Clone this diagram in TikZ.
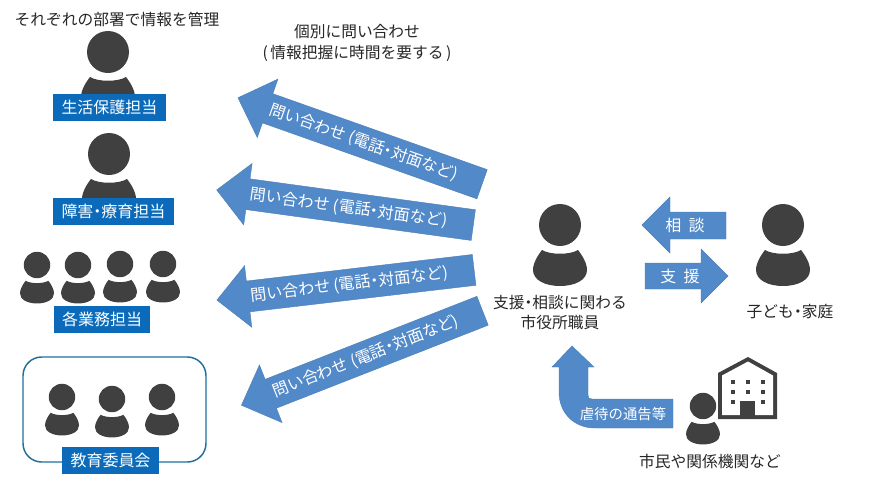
\documentclass[tikz,border=0pt]{standalone}
\usepackage{fontspec}
\setmainfont{Noto Sans CJK JP}
\usepackage{xcolor}
\usetikzlibrary{positioning}
\definecolor{persongray}{HTML}{404040}
\definecolor{tagblue}{HTML}{0B6BBA}
\definecolor{askblue}{HTML}{5289C9}
\definecolor{askedge}{HTML}{4A7DB5}
\definecolor{boardline}{HTML}{1F6F9E}
\newcommand{\tdot}{\makebox[.5em]{・}}
\tikzset{
  note/.style={align=center, font=\fontsize{11.8}{15}\selectfont, inner sep=0pt, text=black!85},
  tag/.style={rectangle, fill=tagblue, text=white, font=\fontsize{12}{14}\selectfont, minimum height=27*0.75pt, inner sep=0pt},
  askfill/.style={fill=askblue, draw=askedge, line width=0.3pt},
  asktext/.style={text=white, font=\fontsize{12}{14}\selectfont, inner sep=0pt},
  person/.pic={
    \fill[persongray] (0,0) circle[radius=21];
    \fill[persongray] (-18,25) .. controls (-10,30) and (10,30) .. (18,25)
      .. controls (22,30) and (27,38) .. (27,45) .. controls (27,55) and (15,61) .. (0,61)
      .. controls (-15,61) and (-27,55) .. (-27,45) .. controls (-27,38) and (-22,30) .. (-18,25) -- cycle;
  },
  askarrow/.pic={
    \path[askfill] (-129.5,0) -- (-98,-31) -- (-98,-15.5) -- (129.5,-15.5) -- (129.5,15.5) -- (-98,15.5) -- (-98,31) -- cycle;
    \node[asktext, transform shape] (-text) at (4,0) {問い合わせ (電話\tdot 対面など)};
  },
}
\begin{document}
\begin{tikzpicture}[x=0.75pt, y=-0.75pt]
\useasboundingbox (0,0) rectangle (876,487);
% left column
\node[note] (manage) at (117,19) {それぞれの部署で情報を管理};
\pic at (108,52) {person};
\node[tag, minimum width=113*0.75pt] (welfare) at (109.5,107.5) {生活保護担当};
\pic at (109,154) {person};
\node[tag, minimum width=121*0.75pt] (care) at (113.5,211) {障害\tdot 療育担当};
\pic[scale=0.63] at (37,265) {person};
\pic[scale=0.63] at (78,265) {person};
\pic[scale=0.63] at (120,264) {person};
\pic[scale=0.63] at (163,264) {person};
\node[tag, minimum width=96*0.75pt] (duties) at (102,319.5) {各業務担当};
\draw[boardline, line width=1.1pt, rounded corners=14pt] (23,357) rectangle (206,462);
\pic[scale=0.63] at (62,397) {person};
\pic[scale=0.63] at (112,399) {person};
\pic[scale=0.63] at (162,397) {person};
\node[tag, minimum width=97*0.75pt] (board) at (110.5,460) {教育委員会};
% inquiries
\node[note] (each) at (357,32) {個別に問い合わせ};
\node[note, below=4pt of each] (slow) {(\,情報把握に時間を要する\,)};
\pic[rotate=-19.5] (ask1) at (360,141) {askarrow};
\pic[rotate=-7.8] (ask2) at (345,207.5) {askarrow};
\pic[rotate=6.7] (ask3) at (345.5,285) {askarrow};
\pic[rotate=21.4] (ask4) at (362,358) {askarrow};
% staff and family
\pic at (560,225) {person};
\node[note] (staff) at (560,313) {支援\tdot 相談に関わる\\市役所職員};
\pic at (783,225) {person};
\node[note] (family) at (790,312) {子ども\tdot 家庭};
\path[askfill] (642,225) -- (670,197) -- (670,212) -- (726,212) -- (726,239) -- (670,239) -- (670,253) -- cycle;
\node[asktext] (consult) at (685,225) {相\ \ 談};
\path[askfill] (728,276) -- (701,249) -- (701,263) -- (645,263) -- (645,289) -- (701,289) -- (701,303) -- cycle;
\node[asktext] (support) at (680,276) {支\ \ 援};
% report from citizens
\path[askfill] (572,346) -- (594,367) -- (588,367) -- (588,395)
  .. controls (588,398) and (589,399) .. (592,399) -- (673,399) -- (673,428) -- (595,428)
  .. controls (574,428) and (559,413) .. (559,392) -- (559,367) -- (552,367) -- cycle;
\node[asktext, font=\fontsize{10.8}{13}\selectfont] (report) at (623,414) {虐待の通告等};
\fill[persongray] (718,419) -- (718,373) -- (748,357) -- (777,373) -- (777,419) -- cycle;
\fill[white] (722,415) -- (722,375.5) -- (748,361.5) -- (773,375.5) -- (773,415) -- cycle;
\fill[persongray] (740,401) rectangle (755,417);
\foreach \wx/\wy in {733/382,748/382,763/382,733/392,748/392,763/392,733/402,763/402}
  \fill[persongray] (\wx-2,\wy-2) rectangle (\wx+2,\wy+2);
\pic[scale=0.63] at (703,406) {person};
\node[note] (citizens) at (710,461) {市民や関係機関など};
\end{tikzpicture}
\end{document}
